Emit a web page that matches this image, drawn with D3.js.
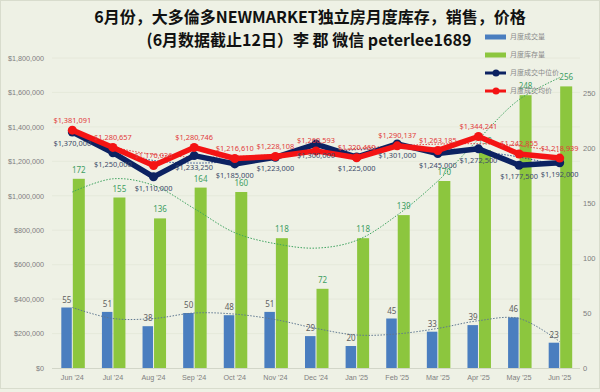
<!DOCTYPE html>
<html>
<head>
<meta charset="utf-8">
<script src="https://cdn.jsdelivr.net/npm/d3@7"></script>
<style>
  body { margin: 0; background: #eef1e5; }
  svg { display: block; }
</style>
</head>
<body>
<div id="chart"></div>
<script>
// DATA

const months = ["Jun '24", "Jul '24", "Aug '24", "Sep '24", "Oct '24", "Nov '24", "Dec '24",
                "Jan '25", "Feb '25", "Mar '25", "Apr '25", "May '25", "Jun '25"];
const sales = [55, 51, 38, 50, 48, 51, 29, 20, 45, 33, 39, 46, 23];
const inventory = [172, 155, 136, 164, 160, 118, 72, 118, 139, 170, 198, 248, 256];
const medianPrice = [1370000, 1250000, 1110000, 1233250, 1185000, 1223000, 1300000,
                     1225000, 1301000, 1245000, 1272500, 1177500, 1192000];
const averagePrice = [1381091, 1280657, 1176026, 1280746, 1216610, 1228108, 1260593,
                      1220460, 1290137, 1263185, 1344241, 1242855, 1218939];

// trendlines
const salesTrend = [55, 45, 45, 50, 49, 44, 36, 30, 31, 36, 43, 45, 24];
const inventoryTrend = [160, 172, 166, 145, 123, 113, 109, 116, 139, 170, 208, 244, 264];
const medianTrend = [1365000, 1262000, 1205000, 1190000, 1200000, 1225000, 1250000,
                     1268000, 1278000, 1275000, 1258000, 1225000, 1175000];
const averageTrend = [1370000, 1285000, 1240000, 1225000, 1228000, 1240000, 1258000,
                      1275000, 1290000, 1300000, 1302000, 1290000, 1255000];

const leftTicks = [0, 200000, 400000, 600000, 800000, 1000000, 1200000, 1400000, 1600000, 1800000];
const rightTicks = [0, 50, 100, 150, 200, 250];

const legendItems = [
  {name: "月度成交量", color: "#4a7ebf", type: "bar"},
  {name: "月度库存量", color: "#8cc63e", type: "bar"},
  {name: "月度成交中位价", color: "#0c2262", type: "line"},
  {name: "月度成交均价", color: "#f41414", type: "line"}
];

const width = 600;
const height = 392;

const svg = d3.select("#chart").append("svg")
  .attr("width", width)
  .attr("height", height)
  .style("font-family", "'Noto Sans', sans-serif");

svg.append("rect")
  .attr("x", 0.5).attr("y", 0.5)
  .attr("width", width - 1).attr("height", height - 4)
  .attr("fill", "#eef1e5")
  .attr("stroke", "#d8dccd");

// SCALES

const x = d3.scaleBand().domain(months).range([52, 580]);
const yLeft = d3.scaleLinear().domain([0, 1800000]).range([368, 58]);
const yRight = d3.scaleLinear().domain([0, 310 / 1.1]).range([368, 58]);
const cx = d => x(d) + x.bandwidth() / 2;

// GRID + AXES

svg.append("g").selectAll("line")
  .data(leftTicks.slice(1))
  .join("line")
  .attr("x1", 52).attr("x2", 580)
  .attr("y1", d => yLeft(d)).attr("y2", d => yLeft(d))
  .attr("stroke", "#e3e7d8")
  .attr("stroke-width", 0.8);

svg.append("line")
  .attr("x1", 52).attr("x2", 580)
  .attr("y1", 368.5).attr("y2", 368.5)
  .attr("stroke", "#d2d6c8");

const leftAxis = svg.append("g")
  .attr("transform", "translate(47,0)")
  .call(d3.axisLeft(yLeft).tickValues(leftTicks).tickSize(0).tickFormat(d => "$" + d3.format(",")(d)));
leftAxis.select(".domain").remove();
leftAxis.selectAll("text").attr("fill", "#808080").attr("font-size", 7.2);

const rightAxis = svg.append("g")
  .attr("transform", "translate(580,0)")
  .call(d3.axisRight(yRight).tickValues(rightTicks).tickSize(0));
rightAxis.select(".domain").remove();
rightAxis.selectAll("text").attr("fill", "#808080").attr("font-size", 7.5).attr("x", 3);

const bottomAxis = svg.append("g")
  .attr("transform", "translate(0,368)")
  .call(d3.axisBottom(x).tickSize(0));
bottomAxis.select(".domain").remove();
bottomAxis.selectAll("text").attr("fill", "#808080").attr("font-size", 7.2).attr("dy", "0.85em").attr("y", 6);

// BARS

svg.append("g").selectAll("rect")
  .data(months)
  .join("rect")
  .attr("x", d => cx(d) - 11)
  .attr("width", 10.5)
  .attr("y", (d, i) => yRight(sales[i]))
  .attr("height", (d, i) => 368 - yRight(sales[i]))
  .attr("fill", "#4a7ebf");

svg.append("g").selectAll("rect")
  .data(months)
  .join("rect")
  .attr("x", d => cx(d) + 0.5)
  .attr("width", 12)
  .attr("y", (d, i) => yRight(inventory[i]))
  .attr("height", (d, i) => 368 - yRight(inventory[i]))
  .attr("fill", "#8cc63e");

svg.append("g").selectAll("text")
  .data(months)
  .join("text")
  .attr("x", d => cx(d) - 5.5)
  .attr("y", (d, i) => yRight(sales[i]) - 5)
  .attr("text-anchor", "middle")
  .attr("font-size", 8)
  .attr("fill", "#606060")
  .text((d, i) => sales[i]);

svg.append("g").selectAll("text")
  .data(months)
  .join("text")
  .attr("x", d => cx(d) + 6.5)
  .attr("y", (d, i) => yRight(inventory[i]) - 6)
  .attr("text-anchor", "middle")
  .attr("font-size", 8)
  .attr("fill", "#3f9e63")
  .text((d, i) => inventory[i]);

// TRENDLINES

function trend(values, scale, color) {
  svg.append("path")
    .datum(values)
    .attr("fill", "none")
    .attr("stroke", color)
    .attr("stroke-width", 1)
    .attr("stroke-dasharray", "1.5,1.5")
    .attr("d", d3.line()
      .x((d, i) => cx(months[i]))
      .y(d => scale(d))
      .curve(d3.curveCatmullRom));
}

trend(salesTrend, yRight, "#5f7890");
trend(inventoryTrend, yRight, "#3fa35f");
trend(medianTrend, yLeft, "#2c4a8c");
trend(averageTrend, yLeft, "#e04545");

// PRICE LINES

function priceLine(values, color) {
  svg.append("path")
    .datum(values)
    .attr("fill", "none")
    .attr("stroke", color)
    .attr("stroke-width", 5.5)
    .attr("stroke-linejoin", "round")
    .attr("d", d3.line()
      .x((d, i) => cx(months[i]))
      .y(d => yLeft(d)));

  svg.append("g").selectAll("circle")
    .data(values)
    .join("circle")
    .attr("cx", (d, i) => cx(months[i]))
    .attr("cy", d => yLeft(d))
    .attr("r", 4.5)
    .attr("fill", color);
}

priceLine(medianPrice, "#0c2262");
priceLine(averagePrice, "#f41414");

svg.append("g").selectAll("text")
  .data(medianPrice)
  .join("text")
  .attr("x", (d, i) => cx(months[i]))
  .attr("y", d => yLeft(d) + 14)
  .attr("text-anchor", "middle")
  .attr("font-size", 7.4)
  .attr("fill", "#3d4b69")
  .text(d => "$" + d3.format(",")(d));

svg.append("g").selectAll("text")
  .data(averagePrice)
  .join("text")
  .attr("x", (d, i) => cx(months[i]))
  .attr("y", d => yLeft(d) - 7.5)
  .attr("text-anchor", "middle")
  .attr("font-size", 7.4)
  .attr("fill", "#e23b3b")
  .text(d => "$" + d3.format(",")(d));

// TITLE

const title = svg.append("g")
  .attr("font-family", "'Noto Sans CJK SC', sans-serif")
  .attr("font-weight", 700)
  .attr("font-size", 16)
  .attr("fill", "#111")
  .attr("text-anchor", "middle");
title.append("text").attr("x", 310).attr("y", 23)
  .text("6月份，大多倫多NEWMARKET独立房月度库存，销售，价格");
title.append("text").attr("x", 309).attr("y", 46)
  .text("(6月数据截止12日）李 郡 微信 peterlee1689");

// LEGEND

const legend = svg.append("g")
  .selectAll("g")
  .data(legendItems)
  .join("g")
  .attr("transform", (d, i) => `translate(485,${37 + i * 18})`);

legend.filter(d => d.type === "bar").append("rect")
  .attr("x", 0).attr("y", -2.5)
  .attr("width", 21).attr("height", 5)
  .attr("fill", d => d.color);

legend.filter(d => d.type === "line").append("line")
  .attr("x1", 0).attr("x2", 21)
  .attr("stroke", d => d.color)
  .attr("stroke-width", 3);

legend.filter(d => d.type === "line").append("circle")
  .attr("cx", 11).attr("r", 3.5)
  .attr("fill", d => d.color);

legend.append("text")
  .attr("x", 25)
  .attr("dy", "0.35em")
  .attr("font-size", 7)
  .attr("font-family", "'Noto Sans CJK SC', sans-serif")
  .attr("fill", "#8a8a8a")
  .text(d => d.name);
</script>
</body>
</html>
